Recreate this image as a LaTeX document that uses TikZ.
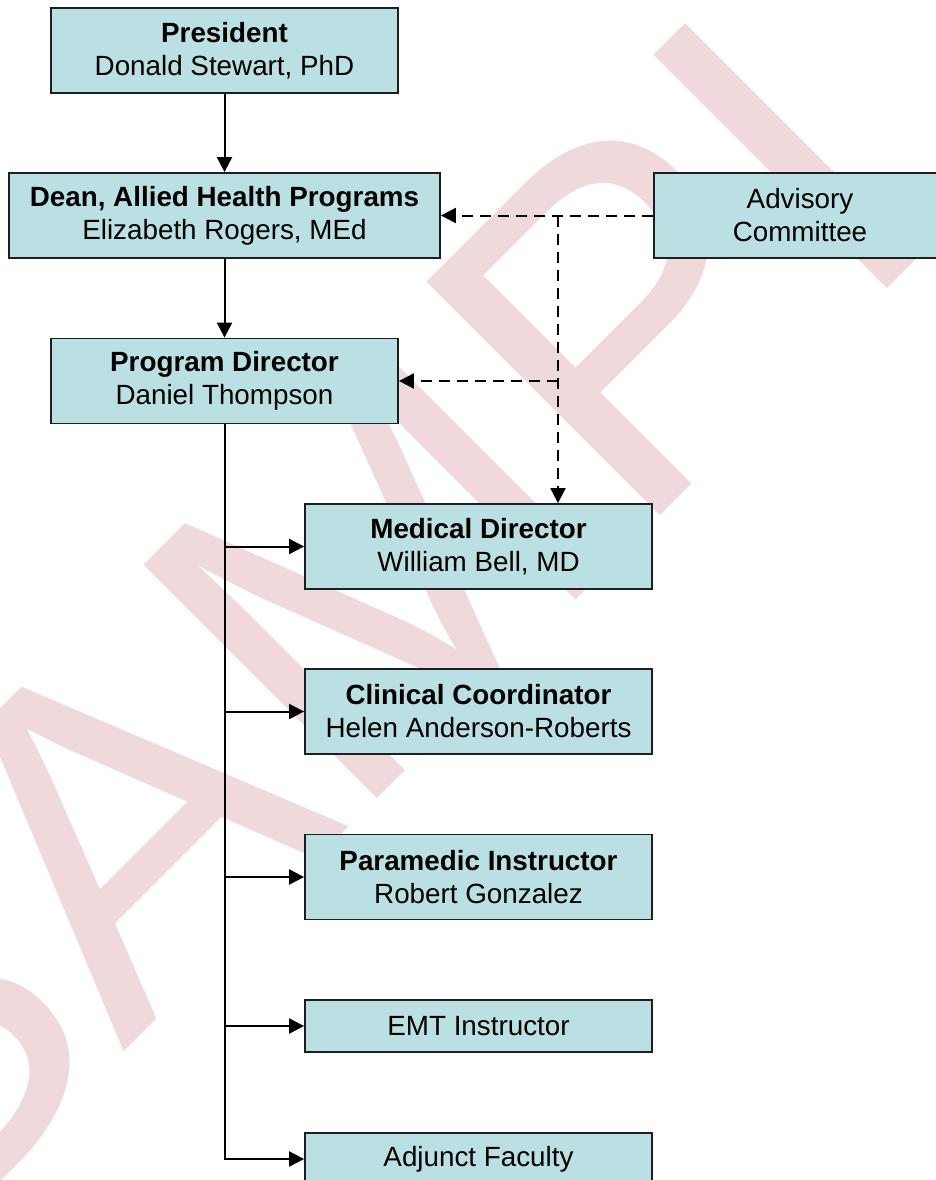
\documentclass[tikz,border=0pt]{standalone}
\usepackage{fontspec}
\setmainfont{Liberation Sans}
\usetikzlibrary{arrows.meta}
\definecolor{boxfill}{RGB}{186,224,227}
\definecolor{wmark}{RGB}{240,217,219}
\definecolor{edgecol}{RGB}{30,30,30}
\begin{document}
\begin{tikzpicture}[x=1pt,y=-1pt,
  box/.style={draw=edgecol, line width=1.8pt, fill=boxfill, minimum width=347pt,
    minimum height=85pt, inner sep=0pt, align=center,
    font=\fontsize{27.8}{33}\selectfont},
  conn/.style={line width=2pt, -{Triangle[length=15pt,width=15pt]}},
  dconn/.style={conn, dash pattern=on 11pt off 7pt}]
\useasboundingbox (0,0) rectangle (935,1180);
% watermark
\node[rotate=45, anchor=base west, text=wmark, inner sep=0pt,
  font=\fontsize{480}{480}\selectfont] (wm) at (-103,1279) {SAMPLE};
% boxes
\node[box] (pres) at (224.5,50.5) {\textbf{President}\\Donald Stewart, PhD};
\node[box, minimum width=431pt] (dean) at (224.5,215.5) {\textbf{Dean, Allied Health Programs}\\Elizabeth Rogers, MEd};
\node[box, minimum width=292pt] (adv) at (800,215.5) {Advisory\\Committee};
\node[box] (pd) at (224.5,381) {\textbf{Program Director}\\Daniel Thompson};
\node[box] (med) at (478.5,546.5) {\textbf{Medical Director}\\William Bell, MD};
\node[box] (clin) at (478.5,711.5) {\textbf{Clinical Coordinator}\\Helen Anderson-Roberts};
\node[box] (para) at (478.5,877) {\textbf{Paramedic Instructor}\\Robert Gonzalez};
\node[box, minimum height=52pt] (emt) at (478.5,1026) {EMT Instructor};
\node[box, minimum height=52pt] (adj) at (478.5,1159) {Adjunct Faculty};
% solid connectors
\draw[conn] (pres) -- (dean);
\draw[conn] (dean) -- (pd);
\draw[conn] (pd.south) -- (pd.south |- adj.west) -- (adj.west);
\draw[conn] (pd.south |- med.west) -- (med.west);
\draw[conn] (pd.south |- clin.west) -- (clin.west);
\draw[conn] (pd.south |- para.west) -- (para.west);
\draw[conn] (pd.south |- emt.west) -- (emt.west);
% dashed connectors
\coordinate (j) at (558,215.5);
\draw[dconn] (adv.west) -- (dean.east);
\draw[dconn] (j) -- (j |- med.north);
\draw[dconn] (j |- pd.east) -- (pd.east);
\end{tikzpicture}
\end{document}
